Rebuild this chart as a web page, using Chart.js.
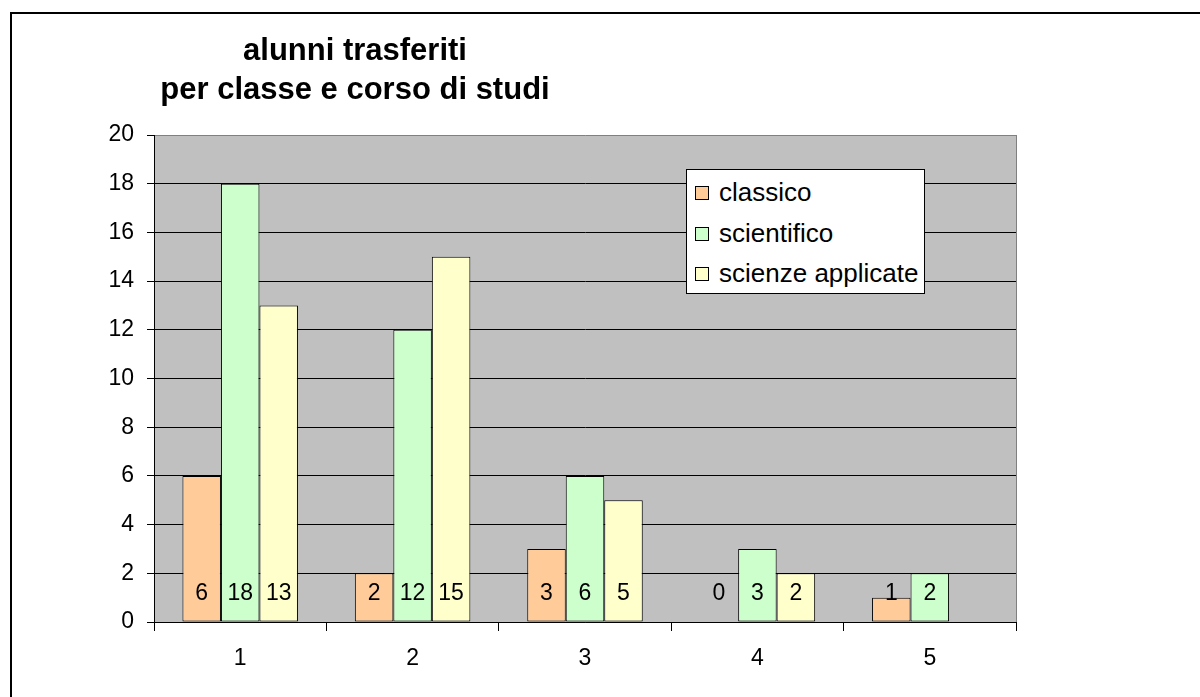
<!DOCTYPE html>
<html>
<head>
<meta charset="utf-8">
<script src="https://cdn.jsdelivr.net/npm/chart.js@4"></script>
<style>
  body { margin: 0; background: #fff; font-family: "Liberation Sans", Arial, sans-serif; }
  #wrap { position: relative; width: 1200px; height: 697px; overflow: hidden; }
  #frame { position: absolute; left: 10px; top: 12px; width: 1300px; height: 800px; border: 2px solid #000; }
  #title { position: absolute; left: 155px; width: 400px; top: 30px; text-align: center; font-weight: bold; font-size: 31px; line-height: 39px; color: #000; }
  #legend { position: absolute; left: 686px; top: 169px; width: 237px; height: 123px; background: #fff; border: 1px solid #000; }
  .item { position: absolute; left: 8px; font-size: 26px; line-height: 28px; color: #000; white-space: nowrap; }
  .item span { display: inline-block; width: 12px; height: 12px; border: 1px solid #000; margin-right: 10px; vertical-align: 1px; }
  canvas { position: absolute; left: 0; top: 0; }
</style>
</head>
<body>
<div id="wrap">
  <div id="frame"></div>
  <canvas id="myChart" width="1200" height="697"></canvas>
  <div id="title">alunni trasferiti<br>per classe e corso di studi</div>
  <div id="legend"></div>
</div>
<script>
'use strict'

let classi = ['1', '2', '3', '4', '5'];
let seriesNames = ['classico', 'scientifico', 'scienze applicate'];
let classico = [6, 2, 3, 0, 1];
let scientifico = [18, 12, 6, 3, 2];
let scienzeApplicate = [13, 15, 5, 2, null];
let yTicks = [0, 2, 4, 6, 8, 10, 12, 14, 16, 18, 20];
let colors = ['#FFCC99', '#CCFFCC', '#FFFFCC'];

let font = '"Liberation Sans", Arial, sans-serif';

// legend box drawn as html
let legend = document.getElementById('legend');
for (let i = 0; i < seriesNames.length; i++) {
    let item = document.createElement('div');
    item.className = 'item';
    item.style.top = (8 + i * 40.5) + 'px';
    item.innerHTML = '<span style="background:' + colors[i] + '"></span>' + seriesNames[i];
    legend.appendChild(item);
}

// gray plot area + right border
let plotBg = {
    id: 'plotBg',
    beforeDraw(chart) {
        let ctx = chart.ctx;
        let a = chart.chartArea;
        ctx.save();
        ctx.fillStyle = '#C0C0C0';
        ctx.fillRect(a.left, a.top, a.right - a.left, a.bottom - a.top);
        ctx.strokeStyle = '#808080';
        ctx.lineWidth = 1;
        ctx.beginPath();
        ctx.moveTo(a.right + 0.5, a.top);
        ctx.lineTo(a.right + 0.5, a.bottom);
        ctx.stroke();
        ctx.restore();
    }
}

// value labels near the bottom of each bar
let valueLabels = {
    id: 'valueLabels',
    afterDatasetsDraw(chart) {
        let ctx = chart.ctx;
        let zero = chart.scales.y.getPixelForValue(0);
        ctx.save();
        ctx.font = '23px ' + font;
        ctx.fillStyle = '#000';
        ctx.textAlign = 'center';
        ctx.textBaseline = 'middle';
        chart.data.datasets.forEach(function (ds, i) {
            let meta = chart.getDatasetMeta(i);
            meta.data.forEach(function (bar, j) {
                if (ds.data[j] === null) return;
                ctx.fillText(String(ds.data[j]), bar.x, zero - 28);
            });
        });
        ctx.restore();
    }
}

let ctx = document.getElementById('myChart').getContext('2d');
let myChart = new Chart(ctx, {
    type: 'bar',
    data: {
        labels: classi,
        datasets: [
            { label: seriesNames[0], data: classico, backgroundColor: colors[0] },
            { label: seriesNames[1], data: scientifico, backgroundColor: colors[1] },
            { label: seriesNames[2], data: scienzeApplicate, backgroundColor: colors[2] }
        ]
    },
    options: {
        responsive: false,
        animation: false,
        layout: { padding: { left: 94, right: 184, top: 135, bottom: 25 } },
        datasets: {
            bar: {
                borderColor: '#000',
                borderWidth: 1,
                borderSkipped: false,
                categoryPercentage: 0.67,
                barPercentage: 1
            }
        },
        plugins: {
            legend: { display: false },
            title: { display: false },
            tooltip: { enabled: false }
        },
        scales: {
            x: {
                afterFit: function (scale) { scale.height = 50; },
                grid: { drawOnChartArea: false, color: '#000', tickLength: 9, offset: true },
                border: { color: '#000' },
                ticks: { color: '#000', padding: 14, font: { family: font, size: 23 } }
            },
            y: {
                min: 0,
                max: 20,
                afterFit: function (scale) { scale.width = 60; },
                afterBuildTicks: function (scale) { scale.ticks = yTicks.map(function (v) { return { value: v }; }); },
                grid: {
                    color: function (c) { return c.tick && c.tick.value === 20 ? '#808080' : '#000'; },
                    tickColor: '#000',
                    tickLength: 7
                },
                border: { color: '#000' },
                ticks: { color: '#000', padding: 13, font: { family: font, size: 23 } }
            }
        }
    },
    plugins: [plotBg, valueLabels]
})
</script>
</body>
</html>
